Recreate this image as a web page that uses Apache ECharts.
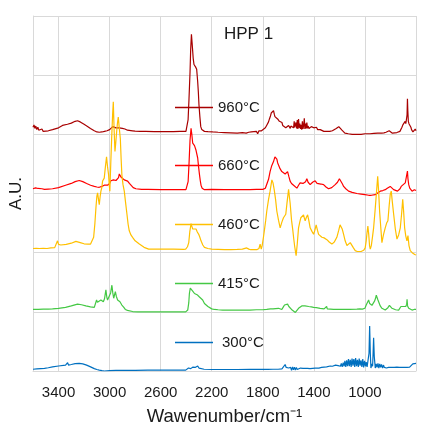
<!DOCTYPE html>
<html>
<head>
<meta charset="utf-8">
<script src="https://cdn.jsdelivr.net/npm/echarts@6/dist/echarts.min.js"></script>
<style>html,body{margin:0;padding:0;background:#fff}#c{width:431px;height:431px}</style>
</head>
<body>
<div id="c"></div>
<script>
// Series names, vertical offsets (A.U.) and colours
const seriesNames = ['960°C', '660°C', '460°C', '415°C', '300°C'];
const offsets = [4, 3, 2, 1, 0];
const colors = ['#A80000', '#FF0000', '#FFC000', '#44C844', '#0070C0'];
const xTicks = [3400, 3000, 2600, 2200, 1800, 1400, 1000];

// Spectra: [wavenumber (cm-1), absorbance above own baseline]
const spec960 = [[3600,0.12],[3592,0.16],[3585,0.10],[3578,0.14],[3570,0.08],[3562,0.12],[3555,0.07],[3548,0.10],[3540,0.06],[3530,0.09],[3520,0.05],[3505,0.07],[3480,0.06],[3447,0.08],[3400,0.11],[3369,0.15],[3330,0.17],[3300,0.19],[3270,0.22],[3251,0.23],[3230,0.21],[3200,0.17],[3170,0.13],[3150,0.10],[3120,0.06],[3100,0.04],[3081,0.035],[3060,0.04],[3040,0.05],[3020,0.06],[3000,0.08],[2985,0.10],[2975,0.13],[2968,0.12],[2960,0.10],[2950,0.11],[2940,0.14],[2935,0.13],[2925,0.11],[2915,0.10],[2900,0.10],[2880,0.09],[2860,0.07],[2846,0.07],[2820,0.06],[2800,0.055],[2760,0.05],[2718,0.05],[2650,0.045],[2600,0.045],[2500,0.045],[2450,0.05],[2402,0.05],[2391,0.07],[2385,0.25],[2378,0.60],[2370,1.05],[2365,1.43],[2359,1.69],[2354,1.55],[2349,1.40],[2345,1.28],[2339,1.18],[2333,1.20],[2327,1.14],[2323,1.14],[2318,1.10],[2310,0.89],[2305,0.72],[2300,0.50],[2293,0.30],[2286,0.13],[2278,0.08],[2271,0.06],[2257,0.05],[2230,0.045],[2192,0.04],[2150,0.035],[2100,0.03],[2050,0.025],[2000,0.02],[1960,0.03],[1930,0.02],[1910,0.035],[1900,0.02],[1890,0.04],[1880,0.01],[1870,0.045],[1860,0.015],[1850,0.05],[1840,0.01],[1830,0.06],[1820,0.03],[1810,0.06],[1795,0.07],[1780,0.11],[1770,0.15],[1762,0.18],[1755,0.21],[1748,0.26],[1740,0.31],[1734,0.36],[1729,0.38],[1724,0.33],[1720,0.36],[1716,0.40],[1710,0.34],[1705,0.30],[1698,0.31],[1690,0.28],[1684,0.26],[1677,0.25],[1670,0.22],[1664,0.24],[1657,0.19],[1650,0.20],[1644,0.15],[1638,0.125],[1630,0.13],[1620,0.11],[1612,0.14],[1606,0.12],[1598,0.15],[1590,0.13],[1585,0.10],[1580,0.14],[1572,0.11],[1565,0.15],[1559,0.11],[1554,0.22],[1550,0.12],[1545,0.09],[1540,0.20],[1535,0.10],[1530,0.24],[1525,0.09],[1520,0.26],[1515,0.11],[1510,0.18],[1505,0.09],[1500,0.16],[1495,0.08],[1490,0.22],[1485,0.09],[1480,0.15],[1475,0.27],[1470,0.09],[1465,0.18],[1460,0.10],[1455,0.20],[1450,0.10],[1445,0.14],[1438,0.10],[1431,0.12],[1425,0.10],[1420,0.13],[1410,0.10],[1400,0.11],[1390,0.09],[1380,0.12],[1370,0.08],[1360,0.07],[1350,0.08],[1340,0.06],[1322,0.05],[1300,0.05],[1275,0.05],[1255,0.06],[1240,0.08],[1225,0.10],[1215,0.12],[1205,0.13],[1199,0.125],[1190,0.10],[1180,0.07],[1170,0.04],[1157,0.02],[1130,0.01],[1100,0.0],[1063,0.0],[1030,0.0],[1000,0.01],[960,0.01],[930,0.015],[900,0.02],[870,0.02],[851,0.025],[835,0.035],[820,0.05],[810,0.06],[804,0.065],[795,0.04],[785,0.02],[770,0.02],[750,0.03],[735,0.04],[726,0.05],[718,0.07],[710,0.12],[703,0.16],[697,0.19],[690,0.17],[685,0.22],[680,0.18],[675,0.25],[670,0.33],[667,0.60],[664,0.40],[660,0.22],[655,0.18],[649,0.16],[644,0.15],[640,0.12],[635,0.08],[630,0.05],[624,0.04],[618,0.03],[612,0.07],[606,0.09],[600,0.06]];

const spec660 = [[3600,0.08],[3590,0.06],[3580,0.095],[3570,0.065],[3560,0.085],[3545,0.07],[3530,0.08],[3510,0.07],[3480,0.075],[3447,0.08],[3400,0.10],[3345,0.14],[3300,0.17],[3270,0.20],[3238,0.22],[3210,0.20],[3180,0.17],[3149,0.14],[3120,0.12],[3100,0.11],[3081,0.105],[3060,0.12],[3042,0.14],[3016,0.14],[3000,0.17],[2990,0.215],[2980,0.19],[2970,0.23],[2963,0.26],[2950,0.22],[2937,0.245],[2930,0.27],[2924,0.33],[2918,0.30],[2911,0.28],[2900,0.25],[2885,0.23],[2870,0.22],[2859,0.21],[2845,0.17],[2833,0.14],[2815,0.10],[2794,0.08],[2750,0.07],[2700,0.07],[2600,0.065],[2500,0.065],[2402,0.065],[2391,0.08],[2385,0.20],[2378,0.50],[2370,0.90],[2362,1.10],[2356,1.00],[2349,0.85],[2342,0.83],[2335,0.81],[2330,0.78],[2323,0.73],[2317,0.70],[2310,0.60],[2303,0.45],[2296,0.32],[2290,0.22],[2284,0.14],[2275,0.09],[2257,0.065],[2200,0.07],[2100,0.065],[2000,0.065],[1900,0.065],[1850,0.07],[1800,0.07],[1780,0.09],[1769,0.12],[1755,0.24],[1743,0.37],[1730,0.47],[1716,0.54],[1705,0.62],[1698,0.65],[1690,0.58],[1684,0.52],[1677,0.48],[1665,0.42],[1651,0.37],[1638,0.34],[1625,0.33],[1615,0.35],[1606,0.37],[1595,0.28],[1586,0.21],[1575,0.17],[1559,0.14],[1545,0.11],[1533,0.09],[1520,0.14],[1508,0.18],[1495,0.15],[1485,0.17],[1476,0.18],[1465,0.20],[1455,0.25],[1445,0.19],[1429,0.15],[1410,0.19],[1400,0.17],[1390,0.215],[1375,0.17],[1363,0.15],[1345,0.16],[1324,0.15],[1305,0.11],[1285,0.08],[1260,0.10],[1245,0.12],[1233,0.15],[1215,0.19],[1200,0.25],[1194,0.27],[1185,0.22],[1176,0.16],[1167,0.12],[1150,0.08],[1128,0.04],[1100,0.02],[1063,0.0],[1030,-0.01],[1000,-0.02],[970,-0.03],[950,-0.03],[935,-0.025],[919,-0.02],[900,0.01],[880,0.04],[860,0.05],[841,0.065],[825,0.09],[810,0.11],[802,0.12],[790,0.09],[775,0.065],[760,0.05],[745,0.04],[736,0.04],[725,0.08],[716,0.12],[710,0.13],[700,0.15],[692,0.14],[684,0.18],[677,0.16],[671,0.20],[667,0.38],[663,0.25],[657,0.15],[649,0.09],[640,0.07],[631,0.04],[622,0.05],[613,0.065],[606,0.045],[600,0.05]];

const spec460 = [[3600,0.07],[3575,0.075],[3550,0.07],[3520,0.075],[3490,0.07],[3460,0.08],[3430,0.085],[3415,0.10],[3408,0.20],[3400,0.14],[3390,0.12],[3382,0.13],[3360,0.135],[3340,0.14],[3300,0.16],[3264,0.19],[3230,0.17],[3200,0.15],[3170,0.145],[3149,0.145],[3135,0.16],[3125,0.26],[3115,0.50],[3107,0.76],[3100,0.95],[3094,1.01],[3087,0.90],[3081,0.81],[3074,0.95],[3068,1.04],[3061,1.10],[3055,1.21],[3048,1.20],[3042,1.26],[3033,1.45],[3024,1.62],[3016,1.45],[3008,1.32],[3003,1.15],[2998,1.04],[2991,1.50],[2984,1.93],[2976,2.35],[2971,2.55],[2965,2.10],[2958,1.71],[2952,1.85],[2945,2.04],[2938,2.20],[2932,2.29],[2924,2.10],[2916,1.93],[2910,1.60],[2904,1.32],[2895,1.15],[2885,1.04],[2875,0.85],[2864,0.65],[2855,0.48],[2846,0.37],[2833,0.30],[2820,0.26],[2800,0.20],[2767,0.145],[2730,0.09],[2694,0.06],[2650,0.06],[2600,0.06],[2500,0.06],[2420,0.055],[2404,0.06],[2390,0.10],[2380,0.17],[2372,0.35],[2362,0.49],[2355,0.44],[2349,0.40],[2343,0.39],[2335,0.41],[2323,0.40],[2313,0.35],[2302,0.31],[2293,0.26],[2284,0.20],[2270,0.13],[2257,0.09],[2230,0.07],[2200,0.06],[2150,0.055],[2100,0.05],[2050,0.05],[2000,0.055],[1960,0.06],[1926,0.08],[1910,0.06],[1894,0.05],[1870,0.05],[1847,0.05],[1830,0.07],[1821,0.145],[1812,0.06],[1805,0.12],[1795,0.26],[1785,0.42],[1777,0.55],[1769,0.70],[1755,0.90],[1743,1.04],[1735,1.15],[1729,1.23],[1720,1.18],[1711,1.07],[1700,0.90],[1690,0.70],[1677,0.55],[1664,0.42],[1650,0.52],[1638,0.59],[1628,0.62],[1620,0.65],[1610,0.85],[1598,1.07],[1592,0.95],[1586,0.84],[1575,0.55],[1565,0.38],[1559,0.26],[1550,0.10],[1539,-0.05],[1530,0.15],[1520,0.42],[1510,0.52],[1502,0.59],[1490,0.62],[1481,0.64],[1474,0.58],[1468,0.54],[1458,0.60],[1449,0.64],[1440,0.55],[1429,0.42],[1415,0.36],[1402,0.31],[1392,0.38],[1382,0.47],[1372,0.38],[1363,0.31],[1350,0.28],[1337,0.26],[1320,0.25],[1298,0.22],[1280,0.18],[1259,0.145],[1240,0.18],[1230,0.22],[1220,0.26],[1205,0.38],[1195,0.47],[1188,0.49],[1178,0.40],[1167,0.31],[1155,0.20],[1141,0.12],[1128,0.15],[1115,0.17],[1102,0.145],[1090,0.08],[1076,0.035],[1060,0.02],[1049,0.007],[1030,0.02],[1010,0.04],[998,0.08],[990,0.20],[983,0.35],[977,0.45],[970,0.30],[964,0.12],[958,0.06],[950,0.12],[940,0.28],[932,0.42],[921,0.70],[911,0.98],[905,1.15],[900,1.29],[893,1.05],[885,0.70],[875,0.40],[867,0.17],[855,0.30],[841,0.42],[830,0.50],[820,0.54],[810,0.80],[802,0.98],[794,1.04],[785,0.85],[775,0.65],[762,0.40],[749,0.23],[736,0.30],[723,0.42],[713,0.65],[704,0.90],[697,0.70],[689,0.42],[680,0.28],[671,0.20],[663,0.29],[655,0.12],[645,0.035],[630,0.0],[618,-0.02],[610,-0.03],[600,-0.04]];

const spec415 = [[3600,0.04],[3560,0.04],[3520,0.045],[3480,0.045],[3447,0.05],[3400,0.06],[3345,0.075],[3300,0.10],[3251,0.13],[3220,0.12],[3186,0.10],[3150,0.085],[3120,0.075],[3110,0.10],[3102,0.20],[3095,0.16],[3089,0.15],[3080,0.18],[3068,0.20],[3058,0.18],[3049,0.17],[3040,0.22],[3029,0.37],[3022,0.25],[3016,0.20],[3008,0.21],[3002,0.23],[2992,0.32],[2982,0.45],[2975,0.32],[2968,0.23],[2962,0.28],[2955,0.34],[2947,0.26],[2937,0.20],[2928,0.19],[2919,0.17],[2910,0.14],[2904,0.115],[2890,0.08],[2877,0.04],[2860,0.025],[2846,0.015],[2820,0.005],[2780,0.0],[2700,0.0],[2600,0.0],[2500,0.0],[2404,0.0],[2392,0.01],[2388,0.03],[2380,0.15],[2375,0.31],[2368,0.40],[2362,0.43],[2355,0.38],[2349,0.35],[2343,0.34],[2335,0.31],[2329,0.33],[2323,0.32],[2315,0.29],[2305,0.27],[2296,0.25],[2285,0.22],[2271,0.20],[2257,0.14],[2245,0.115],[2230,0.09],[2218,0.075],[2200,0.05],[2179,0.04],[2150,0.035],[2114,0.03],[2050,0.03],[2000,0.03],[1950,0.03],[1900,0.03],[1850,0.035],[1800,0.035],[1769,0.04],[1740,0.05],[1720,0.05],[1700,0.055],[1677,0.06],[1665,0.05],[1651,0.04],[1640,0.08],[1630,0.115],[1620,0.10],[1606,0.13],[1596,0.09],[1586,0.06],[1570,0.03],[1555,0.0],[1545,-0.01],[1539,-0.025],[1530,0.02],[1520,0.06],[1505,0.09],[1495,0.10],[1486,0.115],[1470,0.10],[1455,0.10],[1440,0.09],[1420,0.085],[1402,0.075],[1380,0.07],[1351,0.06],[1320,0.05],[1305,0.05],[1300,0.09],[1295,0.05],[1270,0.045],[1246,0.04],[1200,0.04],[1167,0.04],[1120,0.04],[1063,0.045],[1040,0.05],[1020,0.045],[1010,0.04],[1000,0.06],[995,0.08],[990,0.115],[985,0.10],[978,0.11],[971,0.20],[963,0.14],[953,0.115],[945,0.11],[938,0.12],[932,0.14],[925,0.18],[918,0.22],[911,0.28],[904,0.25],[898,0.20],[892,0.17],[880,0.10],[867,0.06],[855,0.04],[841,0.03],[830,0.05],[820,0.07],[814,0.085],[808,0.11],[802,0.13],[795,0.09],[788,0.06],[780,0.04],[760,0.035],[745,0.03],[736,0.03],[725,0.06],[718,0.09],[710,0.10],[703,0.08],[696,0.09],[689,0.075],[680,0.09],[673,0.13],[670,0.21],[666,0.10],[657,0.06],[645,0.04],[631,0.03],[615,0.04],[600,0.04]];

const spec300 = [[3600,0.03],[3570,0.035],[3540,0.04],[3510,0.045],[3480,0.055],[3447,0.07],[3400,0.085],[3345,0.10],[3335,0.10],[3329,0.14],[3322,0.10],[3300,0.11],[3270,0.125],[3238,0.13],[3210,0.12],[3180,0.10],[3149,0.07],[3120,0.04],[3100,0.025],[3081,0.015],[3060,0.005],[3042,0.0],[3000,0.005],[2950,0.01],[2900,0.01],[2800,0.012],[2700,0.015],[2600,0.015],[2500,0.015],[2404,0.015],[2390,0.03],[2382,0.05],[2375,0.055],[2365,0.04],[2355,0.06],[2349,0.065],[2340,0.05],[2330,0.06],[2318,0.075],[2310,0.085],[2300,0.05],[2285,0.035],[2260,0.03],[2200,0.025],[2100,0.025],[2000,0.025],[1900,0.028],[1800,0.03],[1760,0.028],[1720,0.03],[1680,0.03],[1650,0.035],[1635,0.05],[1625,0.11],[1617,0.06],[1606,0.03],[1598,0.05],[1590,0.02],[1582,0.06],[1575,0.01],[1567,0.07],[1560,0.02],[1552,0.065],[1545,0.015],[1537,0.06],[1530,0.025],[1522,0.055],[1515,0.03],[1505,0.05],[1495,0.035],[1485,0.045],[1470,0.04],[1450,0.045],[1430,0.04],[1410,0.045],[1390,0.05],[1377,0.055],[1360,0.05],[1340,0.06],[1320,0.065],[1300,0.07],[1285,0.075],[1272,0.085],[1255,0.08],[1240,0.09],[1230,0.10],[1220,0.11],[1210,0.09],[1200,0.11],[1192,0.08],[1185,0.13],[1178,0.07],[1170,0.14],[1163,0.08],[1157,0.17],[1150,0.07],[1143,0.18],[1136,0.08],[1129,0.20],[1122,0.08],[1115,0.19],[1108,0.07],[1101,0.21],[1094,0.09],[1087,0.20],[1080,0.07],[1073,0.22],[1066,0.08],[1059,0.19],[1052,0.07],[1045,0.21],[1038,0.09],[1031,0.18],[1024,0.07],[1017,0.20],[1010,0.06],[1003,0.17],[996,0.08],[990,0.15],[983,0.07],[975,0.10],[968,0.30],[963,0.76],[958,0.30],[953,0.05],[946,0.12],[940,0.08],[936,0.30],[932,0.56],[927,0.25],[919,0.05],[912,0.12],[905,0.06],[898,0.13],[891,0.05],[884,0.12],[877,0.06],[870,0.11],[862,0.05],[855,0.10],[848,0.06],[840,0.09],[832,0.05],[825,0.08],[815,0.06],[805,0.08],[795,0.06],[785,0.07],[770,0.06],[750,0.065],[730,0.06],[710,0.06],[690,0.06],[670,0.06],[650,0.065],[635,0.08],[625,0.12],[618,0.15],[610,0.13],[600,0.13]];

const spectra = [spec960, spec660, spec460, spec415, spec300];
const legendCenters = [107, 165, 224, 283, 342];

const FONT = 'Liberation Sans';
const chart = echarts.init(document.getElementById('c'), null, {renderer: 'canvas'});

const series = spectra.map((sp, i) => ({
  name: seriesNames[i],
  type: 'line',
  data: sp.map(p => [p[0], p[1] + offsets[i]]),
  symbol: 'none',
  showSymbol: false,
  sampling: 'none',
  clip: true,
  lineStyle: {width: 1.2, color: colors[i]},
  itemStyle: {color: colors[i]},
  z: 2 + i
}));

const legends = seriesNames.map((n, i) => ({
  data: [n],
  left: 175,
  top: legendCenters[i] - 7,
  orient: 'horizontal',
  icon: 'path://M0,0 L38,0 L38,1.5 L0,1.5 Z',
  itemWidth: 38,
  itemHeight: 14,
  itemGap: 0,
  padding: 0,
  selectedMode: false,
  textStyle: {fontFamily: FONT, fontSize: 15, color: '#1a1a1a', padding: i === 4 ? [0, 0, 0, 4] : 0}
}));

chart.setOption({
  animation: false,
  backgroundColor: '#fff',
  title: {
    text: 'HPP 1', left: 224, top: 26, padding: 0,
    textStyle: {fontFamily: FONT, fontSize: 17, fontWeight: 'normal', color: '#1a1a1a'}
  },
  legend: legends,
  grid: {left: 32, right: 15, top: 16, bottom: 56, containLabel: false},
  xAxis: {
    type: 'value', inverse: true, min: 600, max: 3600, interval: 400,
    name: 'Wawenumber/cm⁻¹', nameLocation: 'middle', nameGap: 36,
    nameTextStyle: {fontFamily: FONT, fontSize: 18.5, color: '#1a1a1a'},
    axisLine: {show: true, lineStyle: {color: '#d9d9d9', width: 1}},
    axisTick: {show: false},
    axisLabel: {
      fontFamily: FONT, fontSize: 15, color: '#1a1a1a', margin: 14,
      formatter: v => (xTicks.indexOf(v) >= 0 ? String(v) : '')
    },
    splitLine: {show: true, lineStyle: {color: '#d9d9d9', width: 1}}
  },
  yAxis: {
    type: 'value', min: 0, max: 6, interval: 1,
    name: 'A.U.', nameLocation: 'middle', nameGap: 8, nameRotate: 90,
    nameTextStyle: {fontFamily: FONT, fontSize: 17, color: '#1a1a1a'},
    axisLine: {show: true, lineStyle: {color: '#d9d9d9', width: 1}},
    axisTick: {show: false},
    axisLabel: {show: false},
    splitLine: {show: true, lineStyle: {color: '#d9d9d9', width: 1}}
  },
  series: series
});
</script>
</body>
</html>
